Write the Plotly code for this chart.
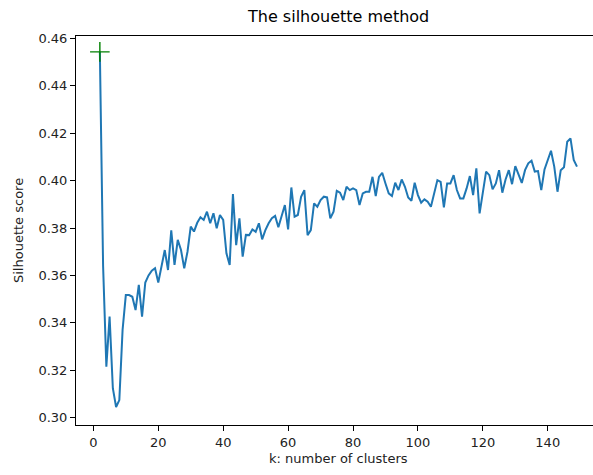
import plotly.graph_objects as go

k_values = list(range(2, 150))
silhouette_scores = [
    0.4543, 0.364, 0.3215, 0.3426, 0.3124, 0.3045, 0.3074, 0.337, 0.3517, 0.3517,
    0.351, 0.3454, 0.356, 0.3426, 0.357, 0.360, 0.362, 0.363, 0.357, 0.364,
    0.3707, 0.3623, 0.379, 0.3644, 0.375, 0.3707, 0.363, 0.370, 0.3806, 0.3785,
    0.3822, 0.3845, 0.3834, 0.3869, 0.382, 0.3862, 0.3799, 0.3855, 0.3834, 0.3693,
    0.3644, 0.3943, 0.3728, 0.3841, 0.3679, 0.3771, 0.3770, 0.3794, 0.3784, 0.3820,
    0.3752, 0.3791, 0.3820, 0.3841, 0.3851, 0.3803, 0.3855, 0.3897, 0.3794, 0.3971,
    0.3848, 0.3855, 0.3932, 0.3960, 0.3770, 0.3791, 0.3904, 0.3890, 0.3918, 0.3932,
    0.3929, 0.3841, 0.3869, 0.3957, 0.3949, 0.3918, 0.3974, 0.3960, 0.3967, 0.3960,
    0.3897, 0.3946, 0.3953, 0.3953, 0.4016, 0.3935, 0.4016, 0.4033, 0.3988, 0.3946,
    0.3935, 0.3991, 0.3960, 0.4005, 0.3974, 0.3929, 0.3915, 0.3991, 0.3939, 0.3907,
    0.3921, 0.3911, 0.3890, 0.3946, 0.4002, 0.3995, 0.3887, 0.3988, 0.3988, 0.4023,
    0.3960, 0.3925, 0.3925, 0.3967, 0.4019, 0.3939, 0.4052, 0.3862, 0.3953, 0.4038,
    0.4023, 0.3963, 0.3988, 0.4044, 0.3949, 0.4005, 0.4044, 0.3985, 0.4061, 0.4023,
    0.3990, 0.4044, 0.4073, 0.4084, 0.4038, 0.4040, 0.3960, 0.4047, 0.4087, 0.4126,
    0.4059, 0.3953, 0.4044, 0.4056, 0.4164, 0.4178, 0.4087, 0.4059,
]
x_ticks = [0, 20, 40, 60, 80, 100, 120, 140]
y_ticks = [0.30, 0.32, 0.34, 0.36, 0.38, 0.40, 0.42, 0.44, 0.46]
title_text = "The silhouette method"
x_label = "k: number of clusters"
y_label = "Silhouette score"

best_idx = max(range(len(silhouette_scores)), key=lambda i: silhouette_scores[i])
best_k = k_values[best_idx]
best_score = silhouette_scores[best_idx]

FONT = "DejaVu Sans"
fig = go.Figure()
fig.add_trace(go.Scatter(
    x=k_values, y=silhouette_scores, mode="lines",
    line=dict(color="#1f77b4", width=2), showlegend=False, hoverinfo="skip",
))
fig.add_trace(go.Scatter(
    x=[best_k], y=[best_score], mode="markers",
    marker=dict(symbol="cross-thin", size=14, line=dict(color="#008000", width=1.4)),
    showlegend=False, hoverinfo="skip",
))

fig.update_layout(
    width=593, height=475,
    margin=dict(l=76, r=0, t=36, b=50),
    paper_bgcolor="white", plot_bgcolor="white",
    font=dict(family=FONT, size=13, color="black"),
    xaxis=dict(
        range=[-5.35, 153.94], tickvals=x_ticks, ticktext=[str(t) for t in x_ticks],
        showgrid=False, zeroline=False, showline=True, linecolor="black", linewidth=1,
        mirror=True, ticks="outside", ticklen=5, tickcolor="black", tickwidth=1,
        tickfont=dict(family=FONT, size=13, color="#222"),
    ),
    yaxis=dict(
        range=[0.2969, 0.4610], tickvals=y_ticks, ticktext=[f"{t:.2f}" for t in y_ticks],
        showgrid=False, zeroline=False, showline=True, linecolor="black", linewidth=1,
        mirror=False, ticks="outside", ticklen=5, tickcolor="black", tickwidth=1,
        tickfont=dict(family=FONT, size=13, color="#222"),
    ),
    annotations=[
        dict(text=title_text, xref="paper", yref="paper", x=0.5075, y=1.0, yshift=8,
             xanchor="center", yanchor="bottom", showarrow=False,
             font=dict(family=FONT, size=16, color="black")),
        dict(text=x_label, xref="paper", yref="paper", x=0.5075, y=0, yshift=-24,
             xanchor="center", yanchor="top", showarrow=False,
             font=dict(family=FONT, size=13, color="#222")),
        dict(text=y_label, xref="paper", yref="paper", x=0, y=0.5, xshift=-48,
             xanchor="right", yanchor="middle", textangle=-90, showarrow=False,
             font=dict(family=FONT, size=13, color="#222")),
    ],
)

fig.write_html("out.html")
